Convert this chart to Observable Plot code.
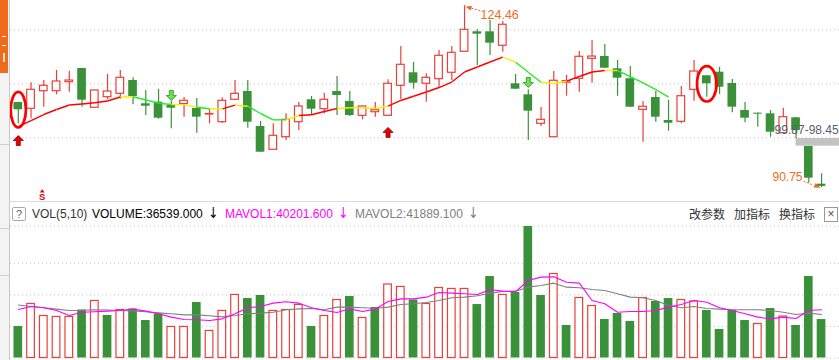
<!DOCTYPE html>
<html><head><meta charset="utf-8">
<script src="https://cdn.jsdelivr.net/npm/d3@7"></script>
<script src="https://cdn.jsdelivr.net/npm/@observablehq/plot@0.6"></script>
<style>
body{margin:0;background:#fff;}
#wrap{position:relative;width:839px;height:360px;overflow:hidden;background:#fff;font-family:"Liberation Sans",Arial,"Noto Sans CJK SC",sans-serif;}
.abs{position:absolute;white-space:nowrap;}
.lg{position:absolute;top:207px;font-size:12px;line-height:14px;white-space:nowrap;}
.arr{position:absolute;top:205px;font-size:15px;line-height:16px;white-space:nowrap;font-family:"DejaVu Sans",sans-serif;transform:scaleX(0.8);}
#side{position:absolute;left:0;top:0;width:9px;height:360px;background:#f3f3f3;border-right:1px solid #c9c9c9;overflow:hidden;z-index:3;}
</style></head><body><div id="wrap"></div>
<script>
// ---- candle data (price) ----
const open  = [106.54,105.37,108.63,108.63,110.30,112.83,105.56,107.52,108.15,110.61,106.30,106.59,105.98,106.26,105.43,104.31,102.89,107.04,108.57,102.09,97.78,100.11,102.89,107.04,105.30,108.57,106.72,104.07,104.74,104.07,109.63,112.04,110.00,110.85,112.04,115.93,119.63,119.63,117.04,110.00,107.96,102.59,100.11,110.20,110.93,114.63,115.06,112.78,110.93,105.19,107.46,103.20,102.96,108.89,111.48,112.15,110.06,105.06,104.56,104.44,100.85,103.70,98.40,91.41];
const high  = [106.60,110.19,110.61,112.46,112.33,112.90,108.80,111.72,112.46,111.11,108.76,109.00,106.72,107.46,107.28,105.24,107.41,110.61,110.61,103.02,102.59,104.44,106.54,107.65,108.26,111.35,108.57,105.90,106.54,110.74,116.91,113.94,111.85,116.17,116.91,124.46,120.00,121.72,121.54,111.72,108.89,105.61,112.28,111.54,115.98,118.02,117.28,114.31,113.20,106.72,108.57,106.91,109.50,114.31,111.50,113.07,110.80,106.54,104.60,105.06,105.48,103.75,98.45,93.33];
const low   = [102.59,103.52,105.67,107.96,108.45,105.67,105.50,107.04,107.15,106.11,104.13,103.44,101.67,103.82,100.85,102.59,102.65,106.95,101.78,97.30,97.70,99.50,101.35,104.13,104.44,104.13,103.94,103.33,103.82,104.00,107.04,109.00,106.59,109.37,110.61,115.90,113.39,115.24,115.85,108.95,99.50,102.09,100.10,107.70,108.45,110.11,112.85,107.70,105.60,99.19,102.89,101.22,102.59,106.78,107.52,108.02,104.63,102.78,101.96,100.11,100.80,99.87,91.59,90.75];
const close = [105.19,108.89,109.63,110.43,110.61,106.96,108.76,108.57,111.11,107.65,105.85,103.63,105.48,106.85,103.82,104.41,106.85,108.15,102.89,97.33,100.37,103.33,105.80,105.30,107.04,107.83,104.13,105.80,105.11,110.00,113.52,110.11,111.11,115.19,115.74,120.00,119.19,117.52,120.93,109.00,104.93,103.33,110.56,110.50,115.00,115.05,112.89,111.04,105.67,105.75,103.82,102.70,107.70,112.28,110.00,109.37,105.67,103.63,104.37,101.04,103.82,101.35,92.52,91.00];
// moving average on price and its trend colouring (per segment ending at index)
const maPrice = [102.09,103.20,104.31,105.24,106.07,106.26,106.48,106.81,107.56,107.60,107.00,106.41,106.17,106.15,105.67,105.37,105.37,106.04,105.85,104.50,103.33,103.33,104.13,104.26,104.87,105.43,105.56,105.56,105.43,105.85,106.91,107.70,108.48,109.31,110.33,112.19,113.11,114.04,114.93,114.00,112.15,110.30,110.00,110.48,111.35,112.19,112.46,112.46,111.35,110.15,108.94,107.52];
const maTrend = [null,"up","up","up","up","up","up","up","up","flat","down","down","down","flat","flat","down","flat","up","flat","down","down","down","flat","up","up","up","flat","flat","flat","flat","up","up","up","up","up","up","up","up","up","flat","down","down","flat","flat","up","up","up","flat","down","down","down","down"];
// ---- volume ----
const volume = [29900,51300,39900,39000,39000,45600,54200,40400,45600,46600,35600,41800,29500,29500,52700,25700,44700,59900,56500,59400,44700,45600,50400,29900,39900,55100,58400,38000,48000,69800,67500,55100,51300,66500,65600,65600,50800,77400,59900,62200,124900,59400,79800,30900,57000,49400,36600,42300,34700,57000,53700,56500,55100,53700,45100,27100,45100,35600,32300,47000,39400,30900,77400,36539];
const mavol1 = [46100,48900,47700,45100,40400,43500,43900,44500,45100,46400,44500,42000,38800,36600,36300,35600,37200,42000,47700,48900,52100,53400,52100,47700,45100,43200,46700,44200,46400,53700,56200,56200,57800,62200,61600,61000,60300,64800,63500,62900,73600,76800,77100,72000,71100,54600,51500,43500,44200,44200,45100,48300,50800,54600,53000,47700,45100,42000,38800,37200,38800,37500,45100,45800];
const mavol2 = [50400,48900,47700,46400,45100,45300,45800,45600,45100,44800,43900,42900,42000,41000,41000,40100,39100,40400,42000,42600,43500,45800,46700,47000,45800,48300,48300,47700,47300,48300,50800,51500,52700,54600,57200,57800,59100,61600,63200,63500,67300,68900,71100,67300,66700,65100,64100,61000,57800,57200,54600,49900,47700,48900,47000,46400,45800,45800,45800,45100,43500,41300,42600,41300];
// ---- ticks / annotations ----
const priceGrid = [100, 110, 120];
const volGrid = [0, 30000, 60000, 90000];
const volTop = 125200;
const buySignals = [{i:0, p:99.5}, {i:29, p:101.0}];
const sellSignals = [{i:12, p:107.83}, {i:40, p:110.24}];
const circledA = [{i:0, p:105.2}];
const circledB = [{i:54, p:110.0}];
const sMarks = [{i:2, p:89.0, t:"S"}];
const hiLabel = [{i:35, p:124.46, t:"124.46"}];
const loLabel = [{i:63, p:90.75, t:"90.75"}];
const gapBox = [{i1:61, i2:64.5, lo:98.45, hi:99.87, t:"99.87-98.45"}];
const legendLeft = [["VOL(5,10)","#333"],["VOLUME:36539.000","#000"],["MAVOL1:40201.600","#ff00ff"],["MAVOL2:41889.100","#808080"]];
const legendArrows = [["↓","#000"],["↓","#ff00ff"],["↓","#808080"]];
const legendRight = ["改参数","加指标","换指标"];

const RED = "#e8413c", GREEN = "#3a913a", ORANGE = "#f26b1d";
const TREND = {up:"#ff0000", flat:"#f6f000", down:"#22ee22"};

const N = open.length;
const candles = d3.range(N).map(i => ({i, o:open[i], h:high[i], l:low[i], c:close[i], up: close[i] >= open[i]}));
const upC = candles.filter(d => d.up), dnC = candles.filter(d => !d.up);
const segs = d3.range(1, maPrice.length).map(i => ({x1:i-1, y1:maPrice[i-1], x2:i, y2:maPrice[i], t:maTrend[i]}));
const vols = d3.range(N).map(i => ({i, v:volume[i], up: i === 0 ? close[i] >= open[i] : close[i] >= close[i-1]}));
const m1 = d3.range(N).map(i => ({i, v:mavol1[i]}));
const m2 = d3.range(N).map(i => ({i, v:mavol2[i]}));

// custom symbols
function ellipseSym(rx, ry){ const k = 0.5523; return {draw(c){ c.moveTo(rx,0); c.bezierCurveTo(rx,k*ry,k*rx,ry,0,ry); c.bezierCurveTo(-k*rx,ry,-rx,k*ry,-rx,0); c.bezierCurveTo(-rx,-k*ry,-k*rx,-ry,0,-ry); c.bezierCurveTo(k*rx,-ry,rx,-k*ry,rx,0); c.closePath(); }}; }
const arrowUp = {draw(c){ c.moveTo(0,-5); c.lineTo(5,0); c.lineTo(2,0); c.lineTo(2,5); c.lineTo(-2,5); c.lineTo(-2,0); c.lineTo(-5,0); c.closePath(); }};
const arrowDown = {draw(c){ c.moveTo(0,5); c.lineTo(5,0); c.lineTo(2,0); c.lineTo(2,-5); c.lineTo(-2,-5); c.lineTo(-2,0); c.lineTo(-5,0); c.closePath(); }};
const hiLeader = {draw(c){ c.moveTo(7,2.5); c.lineTo(16,5); }};
const hiHead = {draw(c){ c.moveTo(1,1); c.lineTo(7.4,0); c.lineTo(6.2,4.9); c.closePath(); }};
const loLeader = {draw(c){ c.moveTo(-18,-6.5); c.lineTo(-8,-2.5); }};
const loHead = {draw(c){ c.moveTo(-1,0); c.lineTo(-8,-0.2); c.lineTo(-6,-4.8); c.closePath(); }};
const caret = {draw(c){ c.moveTo(0,-2); c.lineTo(2.4,1.4); c.lineTo(-2.4,1.4); c.closePath(); }};

const X = {domain:[0, N-1], range:[17.8, 821.05], axis:null};
const FONT = "Liberation Sans, Arial, sans-serif";

const price = Plot.plot({
  width: 839, height: 202, marginLeft: 10, marginRight: 0, marginTop: 0, marginBottom: 0,
  style: {background: "transparent"},
  x: X,
  y: {domain:[100, 120], range:[137.3, 29.3], axis:null},
  marks: [
    Plot.ruleY(priceGrid, {stroke:"#c4c4c4", strokeDasharray:"1,3", strokeWidth:1}),
    Plot.ruleX(upC, {x:"i", y1:"l", y2:"h", stroke:RED, strokeWidth:1.2}),
    Plot.ruleX(dnC, {x:"i", y1:"l", y2:"h", stroke:GREEN, strokeWidth:1.2}),
    Plot.rect(upC, {x1:d=>d.i-0.3, x2:d=>d.i+0.3, y1:"o", y2:"c", fill:"#fff", stroke:RED, strokeWidth:1.2}),
    Plot.rect(dnC, {x1:d=>d.i-0.34, x2:d=>d.i+0.34, y1:"o", y2:"c", fill:GREEN}),
    ...["up","flat","down"].map(t => Plot.link(segs.filter(s => s.t === t), {x1:"x1", y1:"y1", x2:"x2", y2:"y2", stroke:TREND[t], strokeWidth:1.4})),
    Plot.rect(gapBox, {x1:"i1", x2:"i2", y1:"lo", y2:"hi", fill:"#c3c3c3"}),
    Plot.text(gapBox, {x:"i2", y:"hi", text:"t", textAnchor:"end", dx:-2, dy:-8.6, fill:"#56606b", fontSize:12, fontFamily:FONT}),
    Plot.dot(circledA, {x:"i", y:"p", symbol:ellipseSym(7.6,17.8), fill:"none", stroke:"#ff0000", strokeWidth:2.7}),
    Plot.dot(circledB, {x:"i", y:"p", symbol:ellipseSym(9.8,17.7), fill:"none", stroke:"#ff0000", strokeWidth:2.7}),
    Plot.dot(buySignals, {x:"i", y:"p", symbol:arrowUp, fill:"#e60000", stroke:"#8a0000", strokeWidth:0.8}),
    Plot.dot(sellSignals, {x:"i", y:"p", symbol:arrowDown, fill:"#6ee24c", stroke:"#2b8a2b", strokeWidth:0.8}),
    Plot.text(sMarks, {x:"i", y:"p", text:"t", dx:-1.6, fill:"#e00000", fontSize:9.5, fontWeight:"bold", fontFamily:FONT}),
    Plot.dot(sMarks, {x:"i", y:"p", dx:-1.6, dy:-6, symbol:caret, fill:"#e00000", stroke:"none"}),
    Plot.dot(hiLabel, {x:"i", y:"p", symbol:hiLeader, fill:"none", stroke:ORANGE, strokeWidth:1, strokeDasharray:"2,1.5"}),
    Plot.dot(hiLabel, {x:"i", y:"p", symbol:hiHead, fill:ORANGE, stroke:"none"}),
    Plot.text(hiLabel, {x:"i", y:"p", text:"t", dx:16, dy:9.1, textAnchor:"start", fill:ORANGE, fontSize:12.5, fontFamily:FONT}),
    Plot.dot(loLabel, {x:"i", y:"p", symbol:loLeader, fill:"none", stroke:ORANGE, strokeWidth:1, strokeDasharray:"2,1.5"}),
    Plot.dot(loLabel, {x:"i", y:"p", symbol:loHead, fill:ORANGE, stroke:"none"}),
    Plot.text(loLabel, {x:"i", y:"p", text:"t", dx:-19, dy:-10.6, textAnchor:"end", fill:ORANGE, fontSize:12, fontFamily:FONT})
  ]
});

const vol = Plot.plot({
  width: 839, height: 135, marginLeft: 10, marginRight: 0, marginTop: 0, marginBottom: 0,
  style: {background: "transparent"},
  x: X,
  y: {domain:[0, volTop], range:[132.5, 0.7], axis:null},
  marks: [
    Plot.ruleY([...volGrid, volTop], {stroke:"#c4c4c4", strokeDasharray:"1,3", strokeWidth:1}),
    Plot.rect(vols.filter(d => !d.up), {x1:d=>d.i-0.34, x2:d=>d.i+0.34, y1:0, y2:"v", fill:GREEN}),
    Plot.rect(vols.filter(d => d.up), {x1:d=>d.i-0.3, x2:d=>d.i+0.3, y1:0, y2:"v", fill:"#fff", stroke:RED, strokeWidth:1.2}),
    Plot.line(m2, {x:"i", y:"v", stroke:"#808080", strokeWidth:1.1}),
    Plot.line(m1, {x:"i", y:"v", stroke:"#ff00ff", strokeWidth:1.1})
  ]
});

const wrap = document.getElementById("wrap");
price.style.position = "absolute"; price.style.left = "0px"; price.style.top = "0px";
vol.style.position = "absolute"; vol.style.left = "0px"; vol.style.top = "225px";
wrap.appendChild(price);
wrap.appendChild(vol);

// separator line between panels
const sep = document.createElement("div");
sep.className = "abs";
sep.style.cssText = "left:10px;top:201px;width:829px;height:1px;background:#dcdcdc;";
wrap.appendChild(sep);

// legend row
const qb = document.createElement("div");
qb.className = "abs";
qb.style.cssText = "left:12px;top:207px;width:12px;height:12px;border:1px solid #a8a8a8;border-radius:2px;font-size:11px;line-height:12px;text-align:center;color:#666;";
qb.textContent = "?";
wrap.appendChild(qb);
const lefts = [32, 92, 225, 355];
legendLeft.forEach(([t, col], k) => {
  const s = document.createElement("span");
  s.className = "lg"; s.style.left = lefts[k] + "px"; s.style.color = col; s.textContent = t;
  wrap.appendChild(s);
});
const aLefts = [207, 337, 467];
legendArrows.forEach(([t, col], k) => {
  const s = document.createElement("span");
  s.className = "arr"; s.style.left = aLefts[k] + "px"; s.style.color = col; s.textContent = t;
  wrap.appendChild(s);
});
const rLefts = [689, 734, 779];
legendRight.forEach((t, k) => {
  const s = document.createElement("span");
  s.className = "lg"; s.style.left = rLefts[k] + "px"; s.style.color = "#333";
  s.style.fontFamily = "'Noto Sans CJK SC', sans-serif";
  s.textContent = t;
  wrap.appendChild(s);
});
const xb = document.createElement("div");
xb.className = "abs";
xb.style.cssText = "left:824px;top:207px;width:12px;height:13px;border:1px solid #999;font-size:12px;line-height:12px;text-align:center;color:#555;";
xb.textContent = "×";
wrap.appendChild(xb);

// left side bar (cut off in the screenshot)
const side = document.createElement("div");
side.id = "side";
side.innerHTML =
  '<div style="position:absolute;left:0;top:0;width:8px;height:73px;background:#ee6a1c;"></div>' +
  '<div style="position:absolute;left:2px;top:36px;width:4px;height:8px;border-top:1px solid #fff;border-bottom:1px solid #fff;"></div>' +
  '<div style="position:absolute;left:3px;top:53px;width:2px;height:9px;background:#fde0cc;"></div>' +
  '<div style="position:absolute;left:0;top:144px;width:9px;height:1px;background:#cfcfcf;"></div>' +
  '<div style="position:absolute;left:0;top:228px;width:9px;height:1px;background:#cfcfcf;"></div>' +
  '<div style="position:absolute;left:0;top:275px;width:9px;height:1px;background:#cfcfcf;"></div>';
wrap.appendChild(side);
</script></body></html>
